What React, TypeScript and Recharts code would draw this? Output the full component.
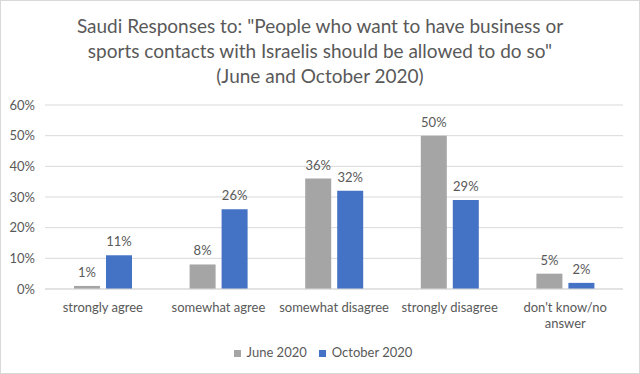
import React from "react";
import { BarChart, Bar, XAxis, YAxis, CartesianGrid, Legend, LabelList } from "recharts";

const categories = ["strongly agree", "somewhat agree", "somewhat disagree", "strongly disagree", "don't know/no answer"];
const juneValues = [1, 8, 36, 50, 5];
const octoberValues = [11, 26, 32, 29, 2];
const yTicks = [0, 10, 20, 30, 40, 50, 60];
const titleLines = [
  "Saudi Responses to: \"People who want to have business or",
  "sports contacts with Israelis should be allowed to do so\"",
  "(June and October 2020)",
];
const labelLines: Record<string, string[]> = {
  "don't know/no answer": ["don't know/no", "answer"],
};

const data = categories.map((c, i) => ({ name: c, june: juneValues[i], october: octoberValues[i] }));

const FONT = "Lato, 'Open Sans', sans-serif";
const TEXT = "#595959";

const XTick = (props: any) => {
  const { x, y, payload } = props;
  const lines = labelLines[payload.value] || [payload.value];
  return (
    <g transform={`translate(${x},${y})`}>
      {lines.map((l: string, i: number) => (
        <text key={i} x={0} y={15 + i * 16} textAnchor="middle" fill={TEXT} fontSize={13} fontFamily={FONT}>
          {l}
        </text>
      ))}
    </g>
  );
};

export default function App() {
  return (
    <div
      style={{
        position: "absolute",
        left: 0,
        top: 0,
        width: 640,
        height: 374,
        boxSizing: "border-box",
        border: "1px solid #d9d9d9",
        background: "#fff",
        fontFamily: FONT,
      }}
    >
      <div style={{ position: "absolute", left: 0, top: 12, width: 638, textAlign: "center", color: TEXT, fontSize: 19, lineHeight: "25px" }}>
        {titleLines.map((t, i) => (
          <div key={i}>{t}</div>
        ))}
      </div>
      <div style={{ position: "absolute", left: -1, top: -1 }}>
        <BarChart width={640} height={374} data={data} margin={{ top: 105, right: 17, left: 0, bottom: 0 }} barGap={6} barSize={26}>
          <CartesianGrid vertical={false} stroke="#d9d9d9" />
          <XAxis
            dataKey="name"
            tick={<XTick />}
            tickLine={false}
            axisLine={{ stroke: "#d9d9d9" }}
            height={69}
            interval={0}
          />
          <YAxis
            width={45}
            domain={[0, 60]}
            ticks={yTicks}
            tickFormatter={(v: number) => `${v}%`}
            tick={{ fill: TEXT, fontSize: 13, fontFamily: FONT }}
            axisLine={false}
            tickLine={false}
            tickMargin={4}
          />
          <Legend
            verticalAlign="bottom"
            iconType="square"
            iconSize={7}
            wrapperStyle={{ bottom: 14, left: 9, width: 640, fontFamily: FONT, fontSize: 13 }}
            formatter={(v: string) => <span style={{ color: TEXT, paddingLeft: 2, marginRight: 2 }}>{v}</span>}
          />
          <Bar dataKey="june" name="June 2020" fill="#a5a5a5" isAnimationActive={false}>
            <LabelList dataKey="june" position="top" offset={9} formatter={(v: any) => `${v}%`} fill={TEXT} fontSize={13} fontFamily={FONT} />
          </Bar>
          <Bar dataKey="october" name="October 2020" fill="#4472c4" isAnimationActive={false}>
            <LabelList dataKey="october" position="top" offset={9} formatter={(v: any) => `${v}%`} fill={TEXT} fontSize={13} fontFamily={FONT} />
          </Bar>
        </BarChart>
      </div>
    </div>
  );
}
